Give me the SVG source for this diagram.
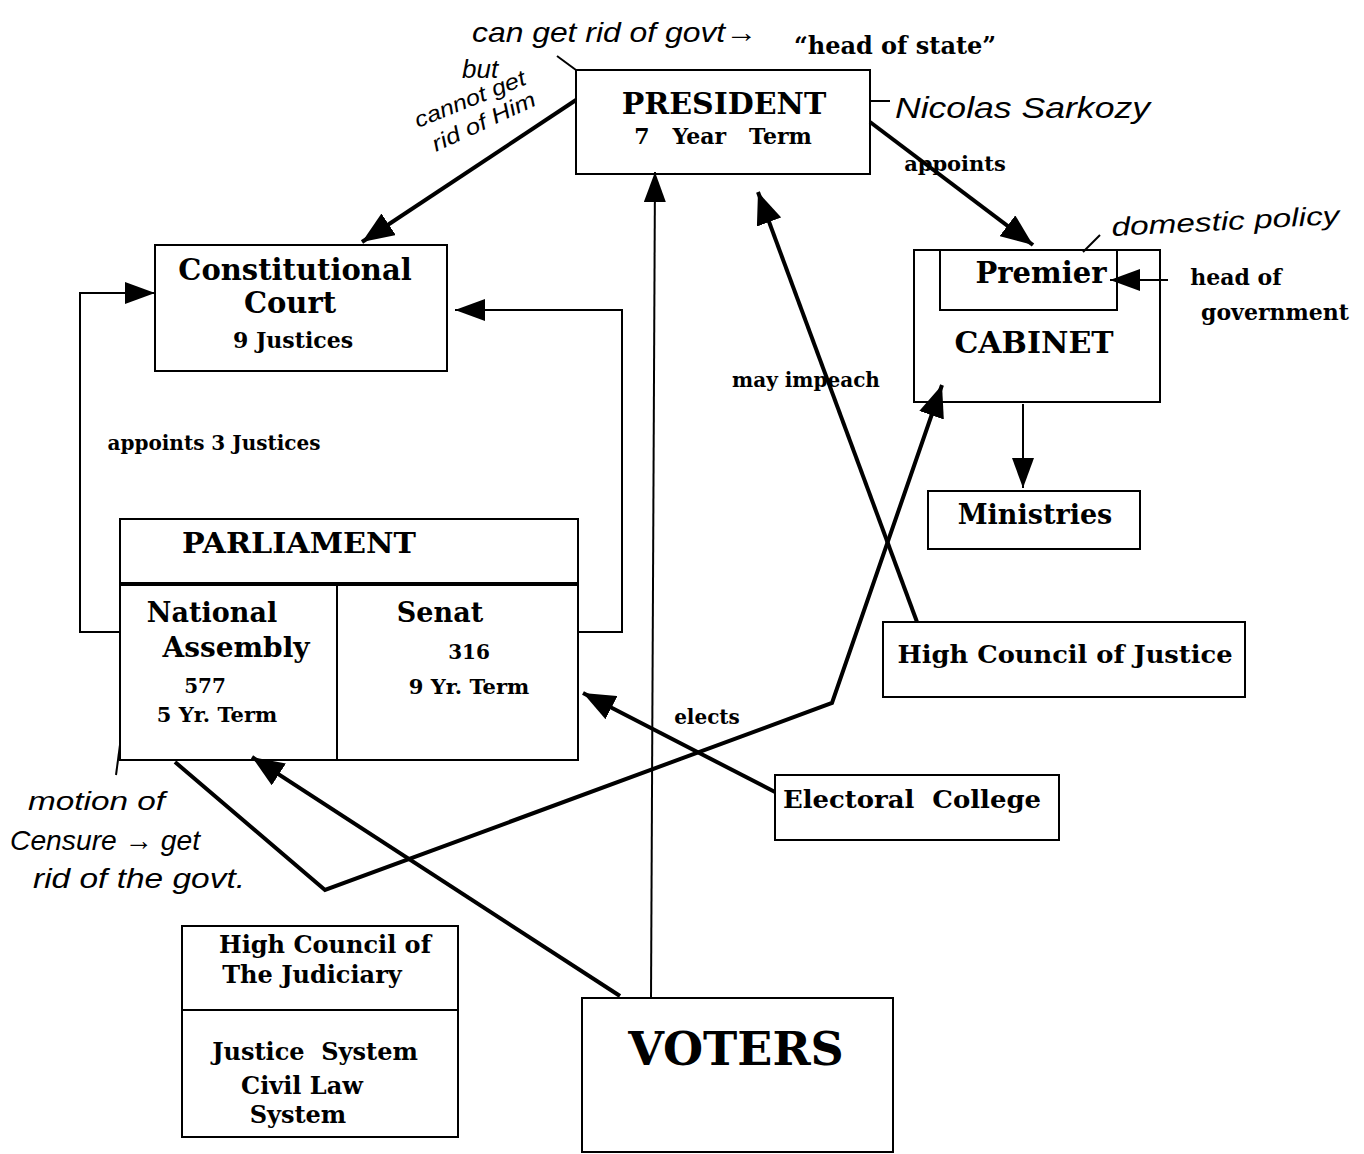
<svg xmlns="http://www.w3.org/2000/svg" width="1364" height="1154" viewBox="0 0 1364 1154">
<style>
.box{fill:#fff;stroke:#000;stroke-width:2}
.t{font-family:"DejaVu Serif","Liberation Serif",serif;font-weight:bold;fill:#000}
.hw{font-family:"Liberation Sans","DejaVu Sans",sans-serif;font-style:italic;fill:#000}
.thick{fill:none;stroke:#000;stroke-width:4}
.thin{fill:none;stroke:#000;stroke-width:2}
</style>
<defs>
<marker id="ab" markerUnits="userSpaceOnUse" markerWidth="32" markerHeight="26" refX="32" refY="13" orient="auto"><path d="M0,0 L32,13 L0,26 z" fill="#000"/></marker>
<marker id="am" markerUnits="userSpaceOnUse" markerWidth="30" markerHeight="22" refX="30" refY="11" orient="auto"><path d="M0,0 L30,11 L0,22 z" fill="#000"/></marker>
</defs>
<rect width="1364" height="1154" fill="#fff"/>

<g id="president">
<rect class="box" x="576" y="70" width="294" height="104"/>
<text class="t" x="724" y="114" font-size="30" text-anchor="middle">PRESIDENT</text>
<text class="t" x="723" y="144" font-size="22" text-anchor="middle" xml:space="preserve">7   Year   Term</text>
</g>
<text class="t" x="895" y="54" font-size="24" text-anchor="middle">“head of state”</text>

<g id="constitutional-court">
<rect class="box" x="155" y="245" width="292" height="126"/>
<text class="t" x="295" y="280" font-size="29" text-anchor="middle">Constitutional</text>
<text class="t" x="290" y="313" font-size="29" text-anchor="middle">Court</text>
<text class="t" x="293" y="348" font-size="22" text-anchor="middle">9 Justices</text>
</g>
<text class="t" x="214" y="450" font-size="20" text-anchor="middle">appoints 3 Justices</text>

<g id="cabinet">
<rect class="box" x="914" y="250" width="246" height="152"/>
<rect class="box" x="940" y="250" width="177" height="60"/>
<text class="t" x="1041" y="283" font-size="29" text-anchor="middle">Premier</text>
<text class="t" x="1034" y="353" font-size="30" text-anchor="middle">CABINET</text>
</g>
<text class="t" x="955" y="171" font-size="21" text-anchor="middle">appoints</text>
<text class="t" x="1236" y="285" font-size="22" text-anchor="middle">head of</text>
<text class="t" x="1275" y="320" font-size="22" text-anchor="middle">government</text>

<g id="ministries">
<rect class="box" x="928" y="491" width="212" height="58"/>
<text class="t" x="1035" y="524" font-size="27" text-anchor="middle">Ministries</text>
</g>

<text class="t" x="806" y="387" font-size="20" text-anchor="middle">may impeach</text>

<g id="high-council-justice">
<rect class="box" x="883" y="622" width="362" height="75"/>
<text class="t" x="1065" y="663" font-size="24" text-anchor="middle" textLength="335" lengthAdjust="spacingAndGlyphs">High Council of Justice</text>
</g>

<g id="parliament">
<rect class="box" x="120" y="519" width="458" height="241"/>
<line x1="120" y1="584" x2="578" y2="584" stroke="#000" stroke-width="4"/>
<line x1="337" y1="584" x2="337" y2="760" stroke="#000" stroke-width="2"/>
<text class="t" x="299" y="553" font-size="27" text-anchor="middle" textLength="234" lengthAdjust="spacingAndGlyphs">PARLIAMENT</text>
<text class="t" x="212" y="622" font-size="27" text-anchor="middle">National</text>
<text class="t" x="236" y="657" font-size="28" text-anchor="middle">Assembly</text>
<text class="t" x="205" y="693" font-size="20" text-anchor="middle">577</text>
<text class="t" x="217" y="722" font-size="21" text-anchor="middle">5 Yr. Term</text>
<text class="t" x="440" y="622" font-size="27" text-anchor="middle">Senat</text>
<text class="t" x="469" y="659" font-size="20" text-anchor="middle">316</text>
<text class="t" x="469" y="694" font-size="21" text-anchor="middle">9 Yr. Term</text>
</g>

<text class="t" x="707" y="724" font-size="20" text-anchor="middle">elects</text>

<g id="electoral-college">
<rect class="box" x="775" y="775" width="284" height="65"/>
<text class="t" x="912" y="808" font-size="24" text-anchor="middle" xml:space="preserve" textLength="258" lengthAdjust="spacingAndGlyphs">Electoral  College</text>
</g>

<g id="high-council-judiciary">
<rect class="box" x="182" y="926" width="276" height="211"/>
<line x1="182" y1="1010" x2="458" y2="1010" stroke="#000" stroke-width="2"/>
<text class="t" x="325" y="953" font-size="24" text-anchor="middle">High Council of</text>
<text class="t" x="312" y="983" font-size="24" text-anchor="middle">The Judiciary</text>
<text class="t" x="315" y="1060" font-size="24" text-anchor="middle" xml:space="preserve">Justice  System</text>
<text class="t" x="302" y="1094" font-size="24" text-anchor="middle">Civil Law</text>
<text class="t" x="298" y="1123" font-size="24" text-anchor="middle">System</text>
</g>

<g id="voters">
<rect class="box" x="582" y="998" width="311" height="154"/>
<text class="t" x="736" y="1065" font-size="46" text-anchor="middle">VOTERS</text>
</g>

<g id="connectors">
<path class="thick" d="M576,100 L362,242" marker-end="url(#ab)"/>
<path class="thick" d="M870,122 L1033,245" marker-end="url(#ab)"/>
<path class="thick" d="M917,622 L758,192" marker-end="url(#ab)"/>
<path class="thin" d="M651,998 L655,172" marker-end="url(#am)"/>
<path class="thin" d="M120,632 H80 V293 H155" marker-end="url(#am)"/>
<path class="thin" d="M578,632 H622 V310 H455" marker-end="url(#am)"/>
<path class="thin" d="M1023,404 V488" marker-end="url(#am)"/>
<path class="thin" d="M1168,280 H1110" marker-end="url(#am)"/>
<path class="thick" d="M775,792 L583,693" marker-end="url(#ab)"/>
<path class="thick" d="M620,996 L252,757" marker-end="url(#ab)"/>
<path class="thick" d="M175,762 L325,890 L832,703 L942,385" marker-end="url(#ab)"/>
<path class="thin" d="M557,56 L576,70"/>
<path class="thin" d="M870,101 H890"/>
<path class="thin" d="M1083,252 L1100,235"/>
<path class="thin" d="M120,745 L116,775"/>
</g>

<g id="handwritten-notes">
<text class="hw" x="472" y="42" font-size="28" textLength="285" lengthAdjust="spacingAndGlyphs">can get rid of govt→</text>
<text class="hw" x="462" y="78" font-size="26">but</text>
<text class="hw" x="418" y="128" font-size="22" textLength="118" lengthAdjust="spacingAndGlyphs" transform="rotate(-22 418 128)">cannot get</text>
<text class="hw" x="436" y="152" font-size="22" textLength="112" lengthAdjust="spacingAndGlyphs" transform="rotate(-25 436 152)">rid of Him</text>
<text class="hw" x="895" y="118" font-size="30" textLength="255" lengthAdjust="spacingAndGlyphs">Nicolas  Sarkozy</text>
<text class="hw" x="1112" y="236" font-size="26" textLength="228" lengthAdjust="spacingAndGlyphs" transform="rotate(-3 1112 236)">domestic policy</text>
<text class="hw" x="28" y="810" font-size="26" textLength="137" lengthAdjust="spacingAndGlyphs">motion of</text>
<text class="hw" x="10" y="850" font-size="28" textLength="190" lengthAdjust="spacingAndGlyphs">Censure → get</text>
<text class="hw" x="33" y="888" font-size="28" textLength="212" lengthAdjust="spacingAndGlyphs">rid of the govt.</text>
</g>
</svg>
